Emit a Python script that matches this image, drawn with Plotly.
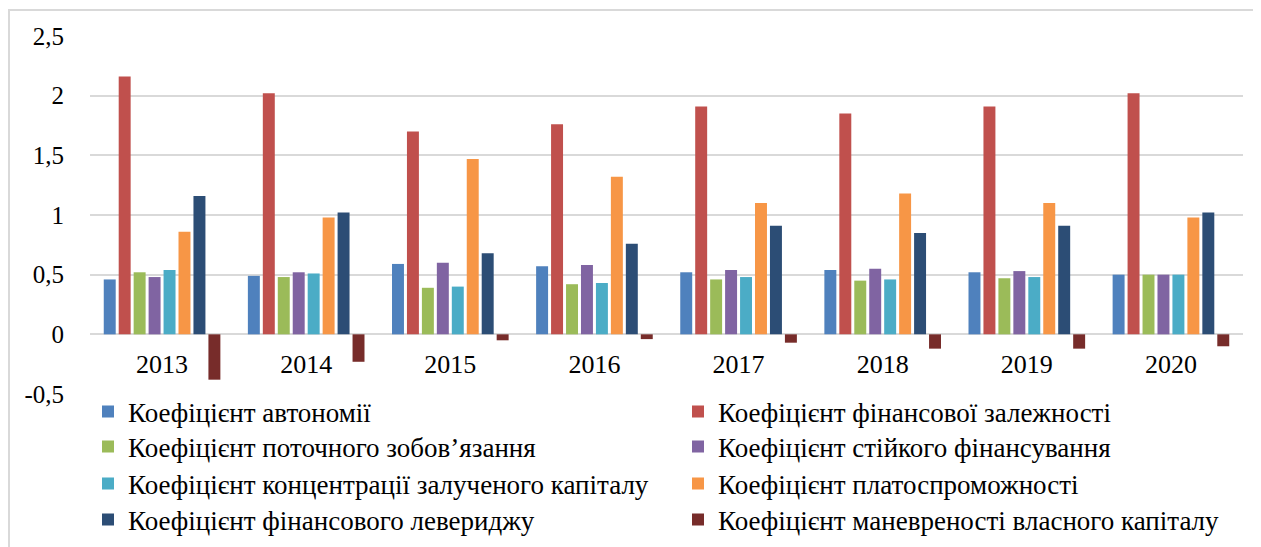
import plotly.graph_objects as go

years = ["2013", "2014", "2015", "2016", "2017", "2018", "2019", "2020"]

names = [
    "Коефіцієнт автономії",
    "Коефіцієнт фінансової залежності",
    "Коефіцієнт поточного зобов’язання",
    "Коефіцієнт стійкого фінансування",
    "Коефіцієнт концентрації залученого капіталу",
    "Коефіцієнт платоспроможності",
    "Коефіцієнт фінансового левериджу",
    "Коефіцієнт маневреності власного капіталу",
]

autonomy      = [0.46, 0.49, 0.59, 0.57, 0.52, 0.54, 0.52, 0.50]
fin_depend    = [2.16, 2.02, 1.70, 1.76, 1.91, 1.85, 1.91, 2.02]
current_oblig = [0.52, 0.48, 0.39, 0.42, 0.46, 0.45, 0.47, 0.50]
stable_fin    = [0.48, 0.52, 0.60, 0.58, 0.54, 0.55, 0.53, 0.50]
concentration = [0.54, 0.51, 0.40, 0.43, 0.48, 0.46, 0.48, 0.50]
solvency      = [0.86, 0.98, 1.47, 1.32, 1.10, 1.18, 1.10, 0.98]
leverage      = [1.16, 1.02, 0.68, 0.76, 0.91, 0.85, 0.91, 1.02]
maneuver      = [-0.38, -0.23, -0.05, -0.04, -0.07, -0.12, -0.12, -0.10]

series = [autonomy, fin_depend, current_oblig, stable_fin,
          concentration, solvency, leverage, maneuver]
colors = ["#4F81BD", "#C0504D", "#9BBB59", "#8064A2",
          "#4BACC6", "#F79646", "#2C4D75", "#772C2A"]

y_ticks = [-0.5, 0, 0.5, 1, 1.5, 2, 2.5]
y_tick_text = ["-0,5", "0", "0,5", "1", "1,5", "2", "2,5"]

FONT = "Liberation Serif"

# figure geometry (page body adds an 8px margin)
W, H = 1253, 539
ML, MR, MT, MB = 82, 18, 28, 153
PW = W - ML - MR
PH = H - MT - MB

def px_x(x):
    return (x - ML) / PW

def px_y(y):
    return (H - MB - y) / PH

fig = go.Figure()
legend_ids = []
for i, (nm, vals, col) in enumerate(zip(names, series, colors)):
    lid = "legend" if i == 0 else f"legend{i + 1}"
    legend_ids.append(lid)
    fig.add_trace(go.Bar(
        x=years, y=vals, name=nm,
        marker=dict(color=col, line=dict(width=0)),
        legend=lid,
    ))

row_centers = [404, 439, 476, 512]
col_lefts = [80, 670]

legends = {}
for i, lid in enumerate(legend_ids):
    row, col = divmod(i, 2)
    legends[lid] = dict(
        orientation="v", yanchor="middle", xanchor="left",
        x=px_x(col_lefts[col]), y=px_y(row_centers[row]),
        font=dict(family=FONT, size=27, color="#000000"),
        bgcolor="rgba(0,0,0,0)",
        itemclick=False, itemdoubleclick=False,
    )

fig.update_layout(
    width=W, height=H,
    margin=dict(l=ML, r=MR, t=MT, b=MB, autoexpand=False),
    paper_bgcolor="white", plot_bgcolor="white",
    barmode="group", bargap=0.17, bargroupgap=0.2,
    font=dict(family=FONT, size=25, color="#000000"),
    showlegend=True,
    xaxis=dict(
        anchor="free", position=1/6, showline=False, ticks="",
        showgrid=False, zeroline=False, ticklabelstandoff=12,
        tickfont=dict(family=FONT, size=26, color="#000000"),
    ),
    yaxis=dict(
        range=[-0.5, 2.5], tickvals=y_ticks, ticktext=y_tick_text,
        showgrid=True, gridcolor="#D9D9D9", gridwidth=1.5,
        zeroline=True, zerolinecolor="#D9D9D9", zerolinewidth=1.5,
        showline=False, ticks="", ticklabelstandoff=25,
        tickfont=dict(family=FONT, size=25, color="#000000"),
    ),
    shapes=[dict(type="rect", xref="paper", yref="paper",
                 x0=px_x(1), x1=px_x(1300), y0=px_y(700), y1=px_y(2),
                 line=dict(color="#D9D9D9", width=2), layer="below")],
    **legends,
)

fig.write_html("out.html")
